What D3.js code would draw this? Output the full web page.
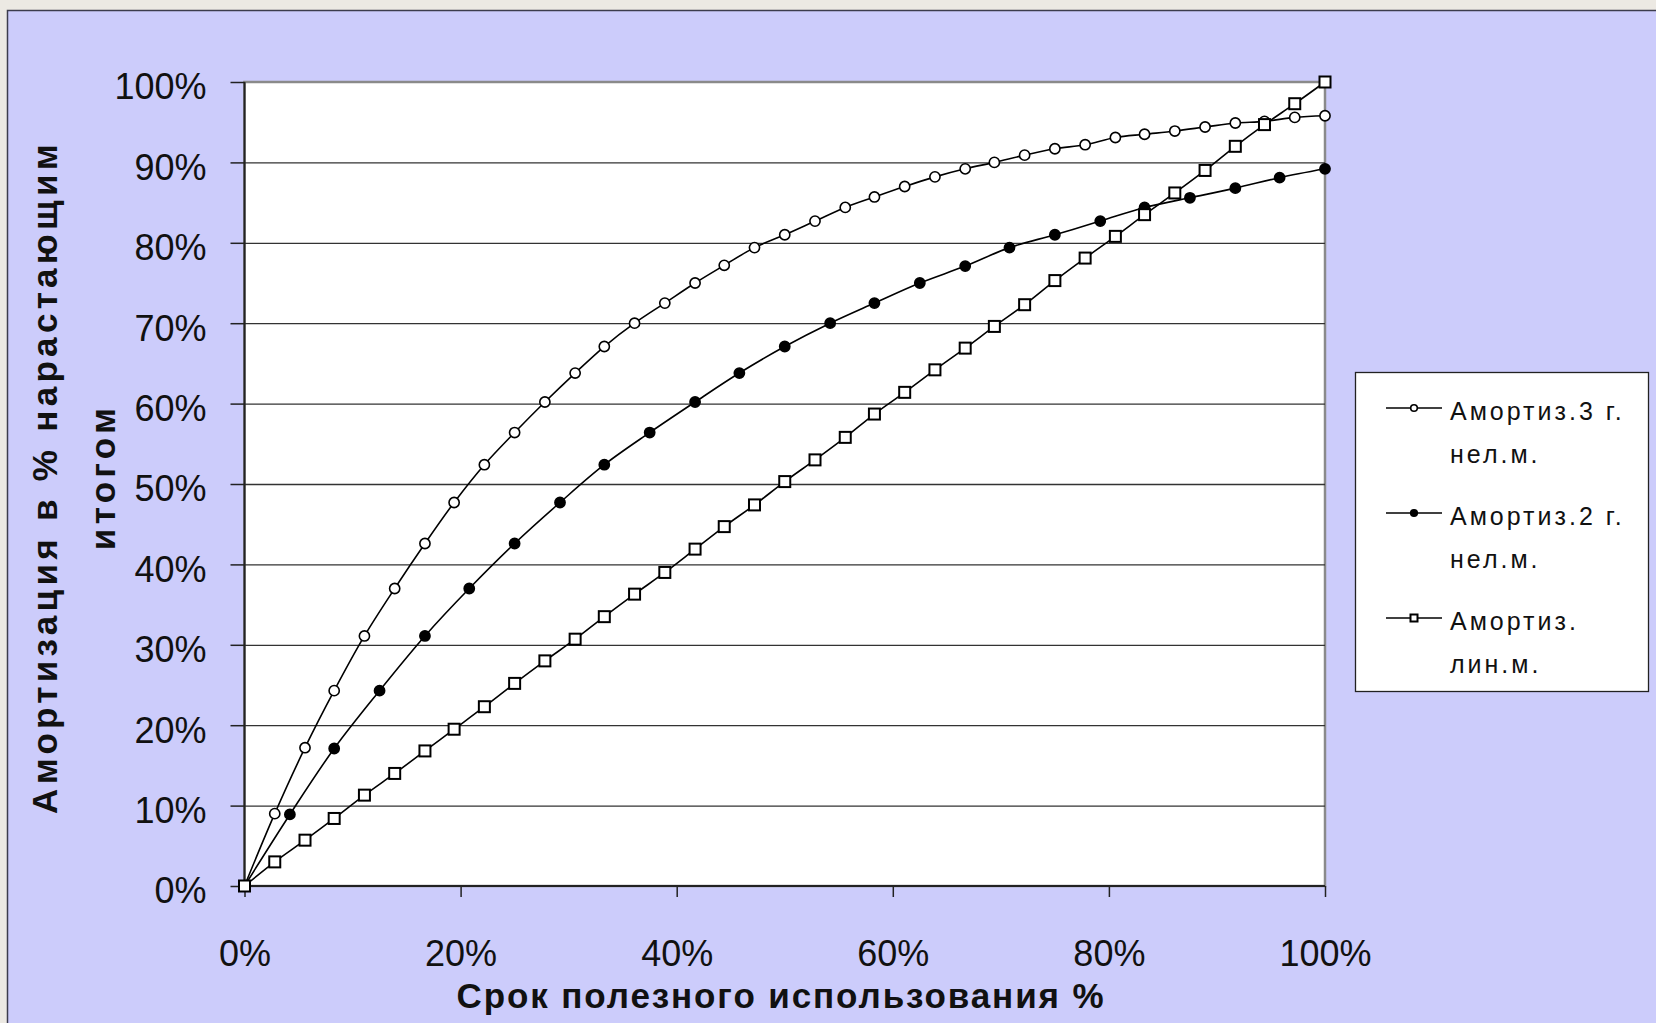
<!DOCTYPE html>
<html>
<head>
<meta charset="utf-8">
<script src="https://cdnjs.cloudflare.com/ajax/libs/d3/7.8.5/d3.min.js"></script>
<style>
  html, body { margin: 0; padding: 0; background: #ece9e3; overflow: hidden; }
  svg { display: block; font-family: Arial, "Liberation Sans", sans-serif; }
  .axis path { display: none; }
  .axis line { stroke: #222; stroke-width: 1.5; }
  .axis text { fill: #111; font-size: 36px; }
  .grid line { stroke: #333; stroke-width: 1.3; }
  .grid path, .grid text { display: none; }
  .title { font-weight: bold; font-size: 35px; fill: #111; }
  .legend text { font-size: 25px; fill: #111; letter-spacing: 3px; }
</style>
</head>
<body>
<div id="chart"></div>
<script>
//////////
// Data //
//////////

// x positions (% of useful life) for the 36-step series
var xSteps36 = [0, 2.8, 5.6, 8.3, 11.1, 13.9, 16.7, 19.4, 22.2, 25.0, 27.8, 30.6, 33.3,
  36.1, 38.9, 41.7, 44.4, 47.2, 50.0, 52.8, 55.6, 58.3, 61.1, 63.9, 66.7, 69.4, 72.2,
  75.0, 77.8, 80.6, 83.3, 86.1, 88.9, 91.7, 94.4, 97.2, 100];

// x positions for the 24-step series
var xSteps24 = [0, 4.2, 8.3, 12.5, 16.7, 20.8, 25.0, 29.2, 33.3, 37.5, 41.7, 45.8, 50.0,
  54.2, 58.3, 62.5, 66.7, 70.8, 75.0, 79.2, 83.3, 87.5, 91.7, 95.8, 100];

// cumulative depreciation, %
var amort3 = [0, 9.0, 17.2, 24.3, 31.1, 37.0, 42.6, 47.7, 52.4, 56.4, 60.2, 63.8, 67.1,
  70.0, 72.5, 75.0, 77.2, 79.4, 81.0, 82.7, 84.4, 85.7, 87.0, 88.2, 89.2, 90.0, 90.9,
  91.7, 92.2, 93.1, 93.5, 93.9, 94.4, 94.9, 95.1, 95.6, 95.8];

var amort2 = [0, 8.9, 17.1, 24.3, 31.1, 37.0, 42.6, 47.7, 52.4, 56.4, 60.2, 63.8, 67.1,
  70.0, 72.5, 75.0, 77.1, 79.4, 81.0, 82.7, 84.4, 85.6, 86.8, 88.1, 89.2];

var amortLin = [0, 3.0, 5.7, 8.4, 11.3, 14.0, 16.8, 19.5, 22.3, 25.2, 28.0, 30.7, 33.5,
  36.3, 39.0, 41.9, 44.7, 47.4, 50.3, 53.0, 55.8, 58.7, 61.4, 64.2, 66.9, 69.6, 72.3,
  75.3, 78.1, 80.8, 83.5, 86.2, 89.0, 92.0, 94.7, 97.3, 100];

var seriesNames = [["Амортиз.3 г.", "нел.м."], ["Амортиз.2 г.", "нел.м."], ["Амортиз.", "лин.м."]];
var markerTypes = ["open", "filled", "square"];

var xTickValues = [0, 20, 40, 60, 80, 100];
var yTickValues = [0, 10, 20, 30, 40, 50, 60, 70, 80, 90, 100];

var yTitle = ["Амортизация в % нарастающим", "итогом"];
var xTitle = "Срок полезного использования %";

function zip(xs, ys) {
  return xs.map(function(x, i) { return {x: x, y: ys[i]}; });
}

var series = [
  {name: seriesNames[0], marker: markerTypes[0], values: zip(xSteps36, amort3)},
  {name: seriesNames[1], marker: markerTypes[1], values: zip(xSteps24, amort2)},
  {name: seriesNames[2], marker: markerTypes[2], values: zip(xSteps36, amortLin)}
];

////////////
// Layout //
////////////

var W = 1656, H = 1023;
var plot = {left: 244.5, right: 1325, top: 82, bottom: 886};

var xScale = d3.scaleLinear().domain([0, 100]).range([plot.left, plot.right]);
var yScale = d3.scaleLinear().domain([0, 100]).range([plot.bottom, plot.top]);

var svg = d3.select("#chart").append("svg")
    .attr("width", W)
    .attr("height", H);

// chart area frame
svg.append("rect")
    .attr("x", 7.5).attr("y", 10.5)
    .attr("width", W + 20).attr("height", H + 20)
    .attr("fill", "#ccccfb")
    .attr("stroke", "#3c3c4c")
    .attr("stroke-width", 1.5);

// plot area
svg.append("rect")
    .attr("x", plot.left).attr("y", plot.top)
    .attr("width", plot.right - plot.left)
    .attr("height", plot.bottom - plot.top)
    .attr("fill", "#fff")
    .attr("stroke", "#8a8a8a")
    .attr("stroke-width", 2.5);

/////////////////////
// Grid and axes   //
/////////////////////

svg.append("g")
    .attr("class", "grid")
    .attr("transform", "translate(" + plot.left + ",0)")
    .call(d3.axisLeft(yScale).tickValues(yTickValues.slice(1, -1))
      .tickSize(-(plot.right - plot.left)).tickFormat(""));

var yAxis = svg.append("g")
    .attr("class", "axis")
    .attr("transform", "translate(" + plot.left + ",0)")
    .call(d3.axisLeft(yScale).tickValues(yTickValues)
      .tickSize(14).tickPadding(24).tickSizeOuter(0)
      .tickFormat(function(d) { return d + "%"; }));
yAxis.selectAll("text").attr("dy", "0.47em");

var xAxis = svg.append("g")
    .attr("class", "axis")
    .attr("transform", "translate(0," + plot.bottom + ")")
    .call(d3.axisBottom(xScale).tickValues(xTickValues)
      .tickSize(11).tickPadding(43).tickSizeOuter(0)
      .tickFormat(function(d) { return d + "%"; }));

// axis lines (left and bottom are dark)
svg.append("line")
    .attr("x1", plot.left).attr("x2", plot.left)
    .attr("y1", plot.top).attr("y2", plot.bottom)
    .attr("stroke", "#222").attr("stroke-width", 2);
svg.append("line")
    .attr("x1", plot.left).attr("x2", plot.right)
    .attr("y1", plot.bottom).attr("y2", plot.bottom)
    .attr("stroke", "#222").attr("stroke-width", 2);

////////////
// Titles //
////////////

var yt = svg.append("text")
    .attr("class", "title")
    .attr("text-anchor", "middle")
    .attr("transform", "translate(57,477) rotate(-90)")
    .style("letter-spacing", "4.3px");
yt.append("tspan").attr("x", 0).attr("y", 0).text(yTitle[0]);
yt.append("tspan").attr("x", 0).attr("y", 58).text(yTitle[1]);

svg.append("text")
    .attr("class", "title")
    .attr("text-anchor", "middle")
    .attr("x", 781).attr("y", 1008)
    .style("letter-spacing", "1.9px")
    .text(xTitle);

////////////////
// Data lines //
////////////////

var line = d3.line()
    .x(function(d) { return xScale(d.x); })
    .y(function(d) { return yScale(d.y); })
    .curve(d3.curveCatmullRom.alpha(0.5));

function drawMarker(g, type, r) {
  if (type === "square") {
    g.append("rect")
      .attr("x", -r).attr("y", -r)
      .attr("width", 2 * r).attr("height", 2 * r)
      .attr("fill", "#fff").attr("stroke", "#000").attr("stroke-width", 2);
  } else {
    g.append("circle")
      .attr("r", r)
      .attr("fill", type === "filled" ? "#000" : "#fff")
      .attr("stroke", "#000").attr("stroke-width", 1.6);
  }
}

series.forEach(function(s) {
  svg.append("path")
    .datum(s.values)
    .attr("fill", "none")
    .attr("stroke", "#000")
    .attr("stroke-width", 1.6)
    .attr("d", line);
});

series.forEach(function(s) {
  var r = s.marker === "square" ? 5.5 : 5.1;
  svg.selectAll(null)
    .data(s.values)
    .enter()
    .append("g")
    .attr("transform", function(d) { return "translate(" + xScale(d.x) + "," + yScale(d.y) + ")"; })
    .each(function() { drawMarker(d3.select(this), s.marker, r); });
});

////////////
// Legend //
////////////

var legend = svg.append("g").attr("class", "legend");

legend.append("rect")
    .attr("x", 1355.5).attr("y", 372.5)
    .attr("width", 293).attr("height", 319)
    .attr("fill", "#fff")
    .attr("stroke", "#222")
    .attr("stroke-width", 1.3);

series.forEach(function(s, i) {
  var y0 = 408 + i * 105;
  var item = legend.append("g");
  item.append("line")
    .attr("x1", 1386).attr("x2", 1442)
    .attr("y1", y0).attr("y2", y0)
    .attr("stroke", "#000").attr("stroke-width", 1.6);
  var m = item.append("g").attr("transform", "translate(1414," + y0 + ")");
  drawMarker(m, s.marker, s.marker === "square" ? 3.5 : 3.3);
  var t = item.append("text");
  t.append("tspan").attr("x", 1450).attr("y", y0 + 12).text(s.name[0]);
  t.append("tspan").attr("x", 1450).attr("y", y0 + 55).text(s.name[1]);
});
</script>
</body>
</html>
